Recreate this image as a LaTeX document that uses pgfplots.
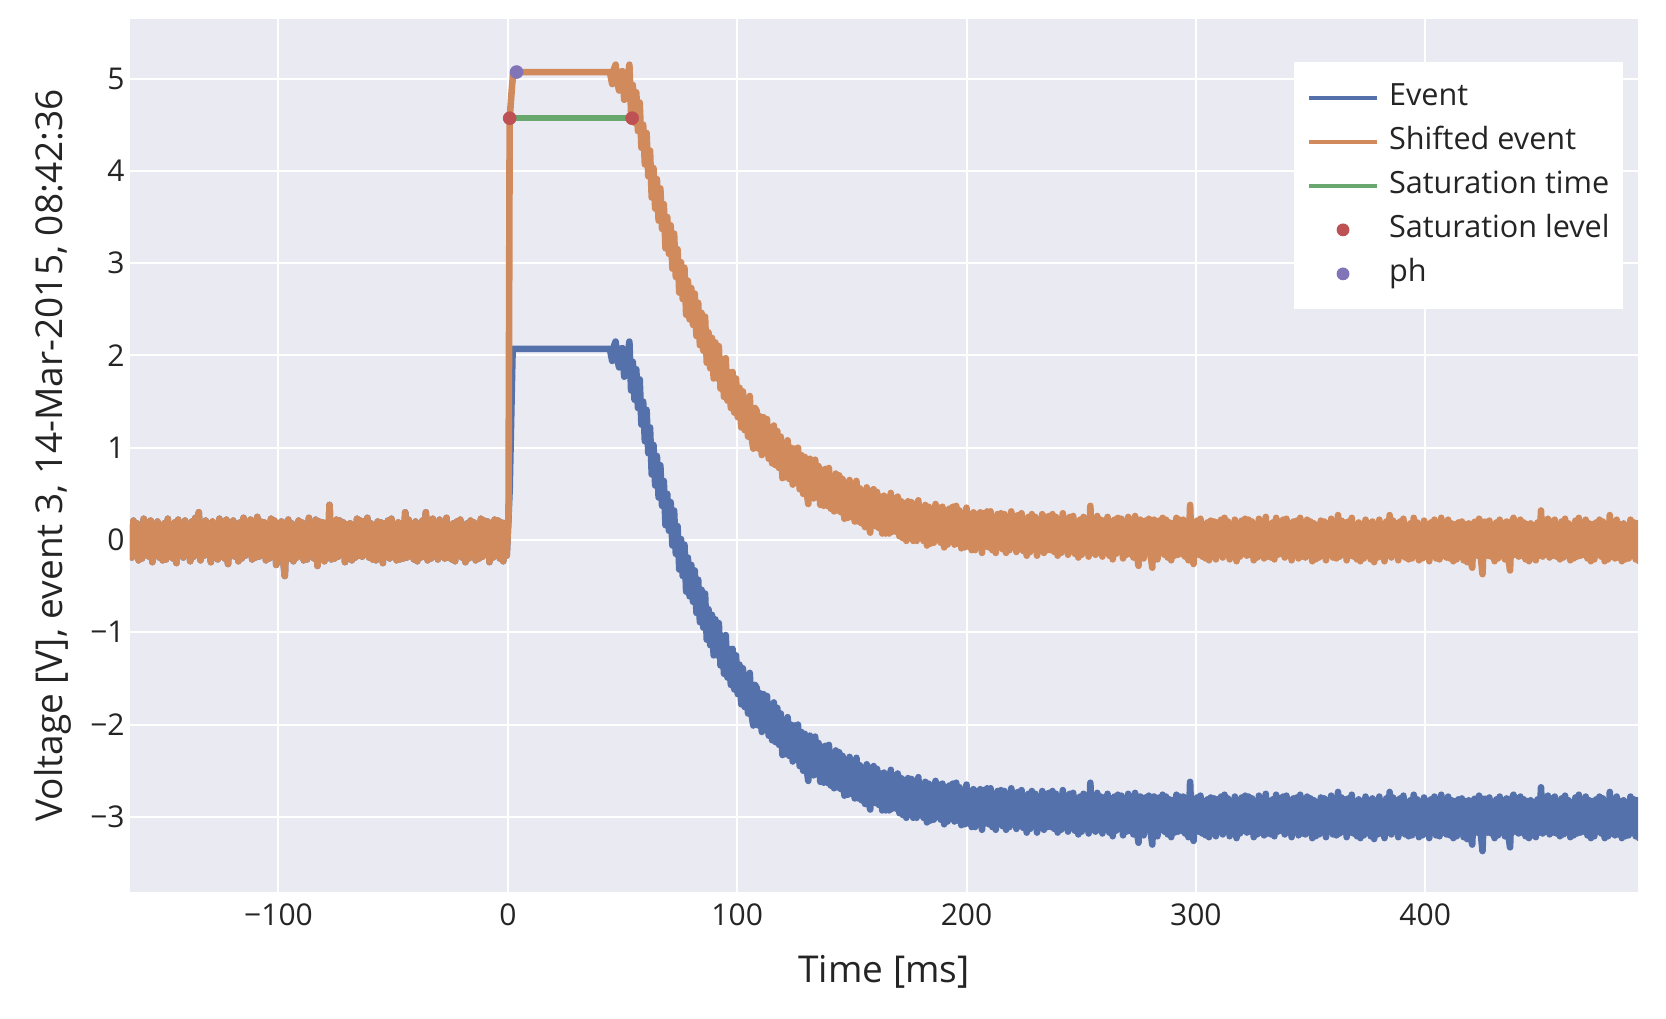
\documentclass[border=0pt]{standalone}
\usepackage{pgfplots}
\pgfplotsset{compat=1.18}
\usepackage{pgfplotstable}
\usepackage{fontspec}
\setmainfont{Open Sans}

\definecolor{panel}{RGB}{234,234,242}
\definecolor{evblue}{RGB}{84,113,171}
\definecolor{shorange}{RGB}{208,138,92}
\definecolor{satgreen}{RGB}{104,168,110}
\definecolor{satred}{RGB}{189,81,84}
\definecolor{phpurple}{RGB}{129,117,183}
\definecolor{labeltext}{RGB}{36,36,36}

% t [ms], event [V], shifted event [V]
\pgfplotstableread{
t ev sh
-164.75 0.17 0.17
-164 -0.19 -0.19
-163.25 0.21 0.21
-162.5 -0.15 -0.15
-161.75 0.18 0.18
-161 -0.22 -0.22
-160.25 0.14 0.14
-159.5 -0.20 -0.20
-158.75 0.23 0.23
-158 -0.16 -0.16
-157.25 0.19 0.19
-156.5 -0.18 -0.18
-155.75 0.21 0.21
-155 -0.24 -0.24
-154.25 0.15 0.15
-153.5 -0.17 -0.17
-152.75 0.20 0.20
-152 -0.19 -0.19
-151.25 0.16 0.16
-150.5 -0.22 -0.22
-149.75 0.18 0.18
-149 -0.21 -0.21
-148.25 0.23 0.23
-147.5 -0.17 -0.17
-146.75 0.15 0.15
-146 -0.20 -0.20
-145.25 0.19 0.19
-144.5 -0.25 -0.25
-143.75 0.22 0.22
-143 -0.16 -0.16
-142.25 0.18 0.18
-141.5 -0.19 -0.19
-140.75 0.21 0.21
-140 -0.15 -0.15
-139.25 0.17 0.17
-138.5 -0.23 -0.23
-137.75 0.20 0.20
-137 -0.18 -0.18
-136.25 0.24 0.24
-135.5 -0.16 -0.16
-134.75 0.30 0.30
-134 -0.22 -0.22
-133.25 0.19 0.19
-132.5 -0.17 -0.17
-131.75 0.21 0.21
-131 -0.16 -0.16
-130.25 0.18 0.18
-129.5 -0.24 -0.24
-128.75 0.20 0.20
-128 -0.19 -0.19
-127.25 0.15 0.15
-126.5 -0.21 -0.21
-125.75 0.23 0.23
-125 -0.18 -0.18
-124.25 0.17 0.17
-123.5 -0.20 -0.20
-122.75 0.22 0.22
-122 -0.26 -0.26
-121.25 0.19 0.19
-120.5 -0.16 -0.16
-119.75 0.21 0.21
-119 -0.18 -0.18
-118.25 0.16 0.16
-117.5 -0.23 -0.23
-116.75 0.19 0.19
-116 -0.20 -0.20
-115.25 0.24 0.24
-114.5 -0.17 -0.17
-113.75 0.18 0.18
-113 -0.15 -0.15
-112.25 0.22 0.22
-111.5 -0.21 -0.21
-110.75 0.17 0.17
-110 -0.19 -0.19
-109.25 0.25 0.25
-108.5 -0.18 -0.18
-107.75 0.20 0.20
-107 -0.16 -0.16
-106.25 0.19 0.19
-105.5 -0.22 -0.22
-104.75 0.16 0.16
-104 -0.20 -0.20
-103.25 0.23 0.23
-102.5 -0.18 -0.18
-101.75 0.21 0.21
-101 -0.27 -0.27
-100.25 0.18 0.18
-99.5 -0.16 -0.16
-98.75 0.20 0.20
-98 -0.19 -0.19
-97.25 -0.39 -0.39
-96.5 0.17 0.17
-95.75 0.22 0.22
-95 -0.20 -0.20
-94.25 0.18 0.18
-93.5 -0.23 -0.23
-92.75 0.16 0.16
-92 -0.19 -0.19
-91.25 0.21 0.21
-90.5 -0.17 -0.17
-89.75 0.19 0.19
-89 -0.22 -0.22
-88.25 0.17 0.17
-87.5 -0.21 -0.21
-86.75 0.24 0.24
-86 -0.16 -0.16
-85.25 0.18 0.18
-84.5 -0.20 -0.20
-83.75 0.22 0.22
-83 -0.28 -0.28
-82.25 0.20 0.20
-81.5 -0.17 -0.17
-80.75 0.19 0.19
-80 -0.23 -0.23
-79.25 0.16 0.16
-78.5 -0.18 -0.18
-77.75 0.38 0.38
-77 -0.21 -0.21
-76.25 0.17 0.17
-75.5 -0.20 -0.20
-74.75 0.22 0.22
-74 -0.18 -0.18
-73.25 0.21 0.21
-72.5 -0.16 -0.16
-71.75 0.19 0.19
-71 -0.24 -0.24
-70.25 0.17 0.17
-69.5 -0.20 -0.20
-68.75 0.18 0.18
-68 -0.22 -0.22
-67.25 0.15 0.15
-66.5 -0.19 -0.19
-65.75 0.23 0.23
-65 -0.17 -0.17
-64.25 0.21 0.21
-63.5 -0.18 -0.18
-62.75 0.20 0.20
-62 -0.16 -0.16
-61.25 0.24 0.24
-60.5 -0.19 -0.19
-59.75 0.18 0.18
-59 -0.21 -0.21
-58.25 0.16 0.16
-57.5 -0.22 -0.22
-56.75 0.20 0.20
-56 -0.17 -0.17
-55.25 0.19 0.19
-54.5 -0.25 -0.25
-53.75 0.18 0.18
-53 -0.16 -0.16
-52.25 0.21 0.21
-51.5 -0.20 -0.20
-50.75 0.23 0.23
-50 -0.18 -0.18
-49.25 0.17 0.17
-48.5 -0.22 -0.22
-47.75 0.19 0.19
-47 -0.21 -0.21
-46.25 0.16 0.16
-45.5 -0.20 -0.20
-44.75 0.30 0.30
-44 -0.19 -0.19
-43.25 0.22 0.22
-42.5 -0.17 -0.17
-41.75 0.18 0.18
-41 -0.21 -0.21
-40.25 0.20 0.20
-39.5 -0.23 -0.23
-38.75 0.16 0.16
-38 -0.19 -0.19
-37.25 0.21 0.21
-36.5 -0.18 -0.18
-35.75 0.30 0.30
-35 -0.22 -0.22
-34.25 0.17 0.17
-33.5 -0.20 -0.20
-32.75 0.23 0.23
-32 -0.16 -0.16
-31.25 0.19 0.19
-30.5 -0.21 -0.21
-29.75 0.22 0.22
-29 -0.18 -0.18
-28.25 0.17 0.17
-27.5 -0.20 -0.20
-26.75 0.24 0.24
-26 -0.19 -0.19
-25.25 0.16 0.16
-24.5 -0.21 -0.21
-23.75 0.18 0.18
-23 -0.23 -0.23
-22.25 0.20 0.20
-21.5 -0.17 -0.17
-20.75 0.22 0.22
-20 -0.19 -0.19
-19.25 0.15 0.15
-18.5 -0.24 -0.24
-17.75 0.18 0.18
-17 -0.20 -0.20
-16.25 0.21 0.21
-15.5 -0.16 -0.16
-14.75 0.19 0.19
-14 -0.22 -0.22
-13.25 0.17 0.17
-12.5 -0.20 -0.20
-11.75 0.23 0.23
-11 -0.18 -0.18
-10.25 0.21 0.21
-9.5 -0.16 -0.16
-8.75 0.20 0.20
-8 -0.24 -0.24
-7.25 0.18 0.18
-6.5 -0.19 -0.19
-5.75 0.22 0.22
-5 -0.17 -0.17
-4.25 0.21 0.21
-3.5 -0.20 -0.20
-2.75 0.19 0.19
-2 -0.23 -0.23
-1.25 0.18 0.18
-0.5 -0.17 -0.17
0.3 0.26 0.28
0.8 0.55 4.57
1.9 1.85 4.94
2.1 2.07 4.99
2.3 2.07 5.07
44.5 2.07 5.07
45.5 1.94 4.94
46.25 2.10 5.10
47 2.15 5.15
47.75 1.96 4.96
48.5 1.87 4.87
49.25 2.07 5.07
50 2.08 5.08
50.75 1.77 4.77
51.5 1.79 4.79
52.25 2.00 5.00
53 2.15 5.15
53.75 1.62 4.62
54.5 1.93 4.93
55.25 1.52 4.52
56 1.85 4.85
56.75 1.43 4.43
57.5 1.74 4.74
58.25 1.25 4.25
59 1.50 4.50
59.75 1.07 4.07
60.5 1.41 4.41
61.25 0.94 3.94
62 1.22 4.22
62.75 0.71 3.71
63.5 1.03 4.03
64.25 0.59 3.59
65 0.91 3.91
65.75 0.46 3.46
66.5 0.81 3.81
67.25 0.37 3.37
68 0.64 3.64
68.75 0.16 3.16
69.5 0.50 3.50
70.25 0.10 3.10
71 0.41 3.41
71.75 -0.06 2.94
72.5 0.32 3.32
73.25 -0.15 2.85
74 0.15 3.15
74.75 -0.32 2.68
75.5 0.01 3.01
76.25 -0.39 2.61
77 -0.05 2.95
77.75 -0.56 2.44
78.5 -0.19 2.81
79.25 -0.61 2.39
80 -0.27 2.73
80.75 -0.67 2.33
81.5 -0.33 2.67
82.25 -0.79 2.21
83 -0.43 2.57
83.75 -0.89 2.11
84.5 -0.54 2.46
85.25 -0.95 2.05
86 -0.58 2.42
86.75 -1.08 1.92
87.5 -0.75 2.25
88.25 -1.14 1.86
89 -0.81 2.19
89.75 -1.25 1.75
90.5 -0.86 2.14
91.25 -1.25 1.75
92 -0.90 2.10
92.75 -1.36 1.64
93.5 -1.04 1.96
94.25 -1.45 1.55
95 -1.03 1.97
95.75 -1.49 1.51
96.5 -1.18 1.82
97.25 -1.57 1.43
98 -1.18 1.82
98.75 -1.62 1.38
99.5 -1.25 1.75
100.25 -1.67 1.33
101 -1.35 1.65
101.75 -1.78 1.22
102.5 -1.39 1.61
103.25 -1.81 1.19
104 -1.47 1.53
104.75 -1.88 1.12
105.5 -1.44 1.56
106.25 -1.88 1.12
107 -2.01 0.99
107.75 -1.57 1.43
108.5 -1.60 1.40
109.25 -2.01 0.99
110 -1.66 1.34
110.75 -2.08 0.92
111.5 -1.67 1.33
112.25 -2.06 0.94
113 -1.69 1.31
113.75 -2.12 0.88
114.5 -1.79 1.21
115.25 -2.17 0.83
116 -1.76 1.24
116.75 -2.19 0.81
117.5 -1.82 1.18
118.25 -2.22 0.78
119 -1.88 1.12
119.75 -2.33 0.67
120.5 -1.95 1.05
121.25 -2.32 0.68
122 -1.92 1.08
122.75 -2.34 0.66
123.5 -2.00 1.00
124.25 -2.40 0.60
125 -2.01 0.99
125.75 -2.38 0.62
126.5 -2.00 1.00
127.25 -2.45 0.55
128 -2.08 0.92
128.75 -2.50 0.50
129.5 -2.10 0.90
130.25 -2.47 0.53
131 -2.61 0.39
131.75 -2.12 0.88
132.5 -2.16 0.84
133.25 -2.55 0.45
134 -2.13 0.87
134.75 -2.54 0.46
135.5 -2.20 0.80
136.25 -2.62 0.38
137 -2.24 0.76
137.75 -2.63 0.37
138.5 -2.23 0.77
139.25 -2.63 0.37
140 -2.22 0.78
140.75 -2.66 0.34
141.5 -2.32 0.68
142.25 -2.69 0.31
143 -2.28 0.72
143.75 -2.68 0.32
144.5 -2.30 0.70
145.25 -2.70 0.30
146 -2.34 0.66
146.75 -2.77 0.23
147.5 -2.39 0.61
148.25 -2.76 0.24
149 -2.35 0.65
149.75 -2.75 0.25
150.5 -2.40 0.60
151.25 -2.80 0.20
152 -2.36 0.64
152.75 -2.80 0.20
153.5 -2.44 0.56
154.25 -2.82 0.18
155 -2.47 0.53
155.75 -2.86 0.14
156.5 -2.43 0.57
157.25 -2.83 0.17
158 -2.92 0.08
158.75 -2.48 0.52
159.5 -2.45 0.55
160.25 -2.85 0.15
161 -2.48 0.52
161.75 -2.87 0.13
162.5 -2.53 0.47
163.25 -2.93 0.07
164 -2.52 0.48
164.75 -2.93 0.07
165.5 -2.54 0.46
166.25 -2.93 0.07
167 -2.49 0.51
167.75 -2.91 0.09
168.5 -2.55 0.45
169.25 -2.91 0.09
170 -2.53 0.47
170.75 -2.96 0.04
171.5 -2.58 0.42
172.25 -2.98 0.02
173 -2.60 0.40
173.75 -3.01 -0.01
174.5 -2.58 0.42
175.25 -2.94 0.06
176 -2.59 0.41
176.75 -3.01 -0.01
177.5 -2.61 0.39
178.25 -3.01 -0.01
179 -2.57 0.43
179.75 -2.98 0.02
180.5 -2.65 0.35
181.25 -3.01 -0.01
182 -2.62 0.38
182.75 -3.06 -0.06
183.5 -2.64 0.36
184.25 -3.04 -0.04
185 -2.66 0.34
185.75 -3.03 -0.03
186.5 -2.61 0.39
187.25 -3.00 0.00
188 -2.65 0.35
188.75 -3.03 -0.03
189.5 -2.64 0.36
190.25 -3.08 -0.08
191 -2.68 0.32
191.75 -3.05 -0.05
192.5 -2.66 0.34
193.25 -3.02 -0.02
194 -2.64 0.36
194.75 -3.05 -0.05
195.5 -2.63 0.37
196.25 -3.04 -0.04
197 -2.68 0.32
197.75 -3.09 -0.09
198.5 -2.72 0.28
199.25 -3.08 -0.08
200 -2.65 0.35
200.75 -3.07 -0.07
201.5 -2.72 0.28
202.25 -3.11 -0.11
203 -2.70 0.30
203.75 -3.11 -0.11
204.5 -2.72 0.28
205.25 -3.06 -0.06
206 -2.70 0.30
206.75 -3.14 -0.14
207.5 -2.71 0.29
208.25 -3.07 -0.07
209 -2.69 0.31
209.75 -3.08 -0.08
210.5 -2.69 0.31
211.25 -3.11 -0.11
212 -2.75 0.25
212.75 -3.14 -0.14
213.5 -2.72 0.28
214.25 -3.08 -0.08
215 -2.71 0.29
215.75 -3.10 -0.10
216.5 -2.72 0.28
217.25 -3.14 -0.14
218 -2.75 0.25
218.75 -3.11 -0.11
219.5 -2.69 0.31
220.25 -3.08 -0.08
221 -2.74 0.26
221.75 -3.13 -0.13
222.5 -2.73 0.27
223.25 -3.10 -0.10
224 -2.71 0.29
224.75 -3.12 -0.12
225.5 -2.77 0.23
226.25 -3.17 -0.17
227 -2.75 0.25
227.75 -3.13 -0.13
228.5 -2.72 0.28
229.25 -3.10 -0.10
230 -2.75 0.25
230.75 -3.17 -0.17
231.5 -2.78 0.22
232.25 -3.12 -0.12
233 -2.72 0.28
233.75 -3.14 -0.14
234.5 -2.75 0.25
235.25 -3.11 -0.11
236 -2.74 0.26
236.75 -3.11 -0.11
237.5 -2.72 0.28
238.25 -3.13 -0.13
239 -2.75 0.25
239.75 -3.17 -0.17
240.5 -2.78 0.22
241.25 -3.14 -0.14
242 -2.71 0.29
242.75 -3.11 -0.11
243.5 -2.77 0.23
244.25 -3.16 -0.16
245 -2.75 0.25
245.75 -3.12 -0.12
246.5 -2.74 0.26
247.25 -3.15 -0.15
248 -2.80 0.20
248.75 -3.19 -0.19
249.5 -2.78 0.22
250.25 -3.16 -0.16
251 -2.75 0.25
251.75 -3.13 -0.13
252.5 -2.77 0.23
253.25 -3.18 -0.18
254 -2.63 0.37
254.75 -3.14 -0.14
255.5 -2.80 0.20
256.25 -3.16 -0.16
257 -2.74 0.26
257.75 -3.14 -0.14
258.5 -2.78 0.22
259.25 -3.18 -0.18
260 -2.79 0.21
260.75 -3.13 -0.13
261.5 -2.75 0.25
262.25 -3.17 -0.17
263 -2.80 0.20
263.75 -3.21 -0.21
264.5 -2.78 0.22
265.25 -3.15 -0.15
266 -2.76 0.24
266.75 -3.13 -0.13
267.5 -2.77 0.23
268.25 -3.20 -0.20
269 -2.80 0.20
269.75 -3.16 -0.16
270.5 -2.75 0.25
271.25 -3.15 -0.15
272 -2.82 0.18
272.75 -3.19 -0.19
273.5 -2.74 0.26
274.25 -3.15 -0.15
275 -3.28 -0.28
275.75 -2.78 0.22
276.5 -2.80 0.20
277.25 -3.20 -0.20
278 -2.79 0.21
278.75 -3.14 -0.14
279.5 -2.77 0.23
280.25 -3.15 -0.15
281 -3.30 -0.30
281.75 -2.78 0.22
282.5 -2.80 0.20
283.25 -3.21 -0.21
284 -2.79 0.21
284.75 -3.14 -0.14
285.5 -2.76 0.24
286.25 -3.16 -0.16
287 -2.78 0.22
287.75 -3.19 -0.19
288.5 -2.81 0.19
289.25 -3.22 -0.22
290 -2.82 0.18
290.75 -3.17 -0.17
291.5 -2.76 0.24
292.25 -3.16 -0.16
293 -2.78 0.22
293.75 -3.15 -0.15
294.5 -2.78 0.22
295.25 -3.18 -0.18
296 -2.83 0.17
296.75 -3.22 -0.22
297.5 -2.62 0.38
298.25 -3.17 -0.17
299 -3.26 -0.26
299.75 -2.85 0.15
300.5 -2.79 0.21
301.25 -3.16 -0.16
302 -2.77 0.23
302.75 -3.18 -0.18
303.5 -2.83 0.17
304.25 -3.20 -0.20
305 -2.81 0.19
305.75 -3.22 -0.22
306.5 -2.79 0.21
307.25 -3.16 -0.16
308 -2.80 0.20
308.75 -3.21 -0.21
309.5 -2.81 0.19
310.25 -3.15 -0.15
311 -2.78 0.22
311.75 -3.19 -0.19
312.5 -2.76 0.24
313.25 -3.16 -0.16
314 -2.80 0.20
314.75 -3.21 -0.21
315.5 -2.83 0.17
316.25 -3.17 -0.17
317 -2.78 0.22
317.75 -3.23 -0.23
318.5 -2.82 0.18
319.25 -3.18 -0.18
320 -2.79 0.21
320.75 -3.15 -0.15
321.5 -2.77 0.23
322.25 -3.17 -0.17
323 -2.78 0.22
323.75 -3.16 -0.16
324.5 -2.80 0.20
325.25 -3.22 -0.22
326 -2.83 0.17
326.75 -3.19 -0.19
327.5 -2.77 0.23
328.25 -3.17 -0.17
329 -2.82 0.18
329.75 -3.20 -0.20
330.5 -2.75 0.25
331.25 -3.18 -0.18
332 -2.83 0.17
332.75 -3.19 -0.19
333.5 -2.81 0.19
334.25 -3.21 -0.21
335 -2.76 0.24
335.75 -3.16 -0.16
336.5 -2.80 0.20
337.25 -3.15 -0.15
338 -2.78 0.22
338.75 -3.19 -0.19
339.5 -2.77 0.23
340.25 -3.17 -0.17
341 -2.82 0.18
341.75 -3.22 -0.22
342.5 -2.80 0.20
343.25 -3.15 -0.15
344 -2.79 0.21
344.75 -3.20 -0.20
345.5 -2.76 0.24
346.25 -3.18 -0.18
347 -2.84 0.16
347.75 -3.19 -0.19
348.5 -2.78 0.22
349.25 -3.17 -0.17
350 -2.80 0.20
350.75 -3.23 -0.23
351.5 -2.82 0.18
352.25 -3.21 -0.21
353 -2.84 0.16
353.75 -3.19 -0.19
354.5 -2.79 0.21
355.25 -3.17 -0.17
356 -2.80 0.20
356.75 -3.22 -0.22
357.5 -2.82 0.18
358.25 -3.16 -0.16
359 -2.77 0.23
359.75 -3.19 -0.19
360.5 -2.83 0.17
361.25 -3.20 -0.20
362 -2.73 0.27
362.75 -3.18 -0.18
363.5 -2.79 0.21
364.25 -3.16 -0.16
365 -2.81 0.19
365.75 -3.22 -0.22
366.5 -2.80 0.20
367.25 -3.17 -0.17
368 -2.76 0.24
368.75 -3.18 -0.18
369.5 -2.84 0.16
370.25 -3.21 -0.21
371 -2.81 0.19
371.75 -3.23 -0.23
372.5 -2.83 0.17
373.25 -3.20 -0.20
374 -2.78 0.22
374.75 -3.16 -0.16
375.5 -2.82 0.18
376.25 -3.21 -0.21
377 -2.80 0.20
377.75 -3.24 -0.24
378.5 -2.83 0.17
379.25 -3.19 -0.19
380 -2.78 0.22
380.75 -3.18 -0.18
381.5 -2.84 0.16
382.25 -3.23 -0.23
383 -2.80 0.20
383.75 -3.17 -0.17
384.5 -2.73 0.27
385.25 -3.19 -0.19
386 -2.79 0.21
386.75 -3.16 -0.16
387.5 -2.82 0.18
388.25 -3.22 -0.22
389 -2.80 0.20
389.75 -3.17 -0.17
390.5 -2.77 0.23
391.25 -3.19 -0.19
392 -2.84 0.16
392.75 -3.21 -0.21
393.5 -2.82 0.18
394.25 -3.20 -0.20
395 -2.76 0.24
395.75 -3.17 -0.17
396.5 -2.81 0.19
397.25 -3.22 -0.22
398 -2.84 0.16
398.75 -3.20 -0.20
399.5 -2.79 0.21
400.25 -3.18 -0.18
401 -2.83 0.17
401.75 -3.23 -0.23
402.5 -2.81 0.19
403.25 -3.16 -0.16
404 -2.78 0.22
404.75 -3.20 -0.20
405.5 -2.82 0.18
406.25 -3.21 -0.21
407 -2.76 0.24
407.75 -3.17 -0.17
408.5 -2.84 0.16
409.25 -3.19 -0.19
410 -2.78 0.22
410.75 -3.20 -0.20
411.5 -2.82 0.18
412.25 -3.23 -0.23
413 -2.83 0.17
413.75 -3.21 -0.21
414.5 -2.81 0.19
415.25 -3.16 -0.16
416 -2.80 0.20
416.75 -3.22 -0.22
417.5 -2.83 0.17
418.25 -3.24 -0.24
419 -2.82 0.18
419.75 -3.21 -0.21
420.5 -3.30 -0.30
421.25 -2.81 0.19
422 -2.80 0.20
422.75 -3.17 -0.17
423.5 -2.77 0.23
424.25 -3.18 -0.18
425 -3.37 -0.37
425.75 -2.80 0.20
426.5 -2.81 0.19
427.25 -3.17 -0.17
428 -2.79 0.21
428.75 -3.18 -0.18
429.5 -2.84 0.16
430.25 -3.23 -0.23
431 -2.81 0.19
431.75 -3.20 -0.20
432.5 -2.78 0.22
433.25 -3.17 -0.17
434 -2.82 0.18
434.75 -3.21 -0.21
435.5 -2.80 0.20
436.25 -3.19 -0.19
437 -3.33 -0.33
437.75 -2.81 0.19
438.5 -2.76 0.24
439.25 -3.16 -0.16
440 -2.80 0.20
440.75 -3.18 -0.18
441.5 -2.78 0.22
442.25 -3.17 -0.17
443 -2.81 0.19
443.75 -3.21 -0.21
444.5 -2.83 0.17
445.25 -3.23 -0.23
446 -2.82 0.18
446.75 -3.20 -0.20
447.5 -2.84 0.16
448.25 -3.22 -0.22
449 -2.81 0.19
449.75 -3.17 -0.17
450.5 -2.68 0.32
451.25 -3.18 -0.18
452 -2.79 0.21
452.75 -3.16 -0.16
453.5 -2.77 0.23
454.25 -3.19 -0.19
455 -2.80 0.20
455.75 -3.17 -0.17
456.5 -2.78 0.22
457.25 -3.18 -0.18
458 -2.84 0.16
458.75 -3.21 -0.21
459.5 -2.80 0.20
460.25 -3.19 -0.19
461 -2.77 0.23
461.75 -3.17 -0.17
462.5 -2.82 0.18
463.25 -3.22 -0.22
464 -2.84 0.16
464.75 -3.20 -0.20
465.5 -2.79 0.21
466.25 -3.18 -0.18
467 -2.76 0.24
467.75 -3.17 -0.17
468.5 -2.81 0.19
469.25 -3.16 -0.16
470 -2.78 0.22
470.75 -3.20 -0.20
471.5 -2.82 0.18
472.25 -3.23 -0.23
473 -2.83 0.17
473.75 -3.21 -0.21
474.5 -2.81 0.19
475.25 -3.16 -0.16
476 -2.78 0.22
476.75 -3.18 -0.18
477.5 -2.80 0.20
478.25 -3.23 -0.23
479 -2.83 0.17
479.75 -3.21 -0.21
480.5 -2.73 0.27
481.25 -3.18 -0.18
482 -2.84 0.16
482.75 -3.20 -0.20
483.5 -2.78 0.22
484.25 -3.19 -0.19
485 -2.83 0.17
485.75 -3.23 -0.23
486.5 -2.82 0.18
487.25 -3.21 -0.21
488 -2.84 0.16
488.75 -3.20 -0.20
489.5 -2.78 0.22
490.25 -3.17 -0.17
491 -2.81 0.19
491.75 -3.21 -0.21
492.5 -2.82 0.18
493.25 -3.23 -0.23
494 -2.83 0.17
}\sigdata

\begin{document}
\begin{tikzpicture}
\path[use as bounding box] (-65pt,-63pt) rectangle (768pt,446pt);
\begin{axis}[
  at={(0pt,0pt)}, anchor=south west,
  scale only axis, width=754pt, height=436.5pt,
  xmin=-164.75, xmax=492.8, ymin=-3.814, ymax=5.645,
  axis background/.style={fill=panel},
  axis line style={draw=none},
  major tick length=0pt,
  grid=major, major grid style={white, line width=1pt},
  xtick={-100,0,100,200,300,400},
  xticklabels={−100,0,100,200,300,400},
  ytick={-3,-2,-1,0,1,2,3,4,5},
  yticklabels={−3,−2,−1,0,1,2,3,4,5},
  ticklabel style={font=\fontsize{15}{18}\selectfont, text=labeltext},
  xticklabel style={inner sep=0pt, yshift=-5.5pt},
  yticklabel style={inner sep=0pt, xshift=-2.5pt},
  xlabel={Time [ms]},
  ylabel={Voltage [V], event 3, 14-Mar-2015, 08:42:36},
  every axis x label/.style={at={(axis description cs:0.5,0)}, anchor=center, yshift=-40pt},
  every axis y label/.style={at={(axis description cs:0,0.5)}, xshift=-38.4pt, rotate=90, anchor=center},
  label style={font=\fontsize{18.5}{22}\selectfont, text=labeltext},
  legend cell align=left,
  legend style={at={(1,1)}, anchor=north east, xshift=-7.5pt, yshift=-21.5pt,
    draw=none, fill=white, font=\fontsize{15.3}{18}\selectfont, text=labeltext,
    inner xsep=6.5pt, inner ysep=10.5pt, row sep=7.5pt,
    nodes={inner sep=0pt, text height=11pt, text depth=3.5pt, anchor=west}},
]
\addplot[evblue, line width=3.3pt, line join=round,
  legend image code/.code={\path[draw=none] (0pt,0pt) -- (40pt,0pt); \draw[evblue, line width=2.3pt] (0pt,0pt) -- (34pt,0pt);}]
  table[x=t, y=ev] {\sigdata};
\addlegendentry{Event}
\addplot[shorange, line width=3.3pt, line join=round,
  legend image code/.code={\path[draw=none] (0pt,0pt) -- (40pt,0pt); \draw[shorange, line width=2.3pt] (0pt,0pt) -- (34pt,0pt);}]
  table[x=t, y=sh] {\sigdata};
\addlegendentry{Shifted event}
\addplot[satgreen, line width=3pt,
  legend image code/.code={\path[draw=none] (0pt,0pt) -- (40pt,0pt); \draw[satgreen, line width=2.3pt] (0pt,0pt) -- (34pt,0pt);}]
  coordinates {(0.8,4.57) (54.2,4.57)};
\addlegendentry{Saturation time}
\addplot[satred, only marks, mark=*, mark size=3.2pt, mark options={draw=satred, fill=satred},
  legend image code/.code={\path[draw=none] (0pt,0pt) -- (40pt,0pt); \fill[satred, draw=none] (17pt,0pt) circle[radius=3.2pt];}]
  coordinates {(0.8,4.57) (54.2,4.57)};
\addlegendentry{Saturation level}
\addplot[phpurple, only marks, mark=*, mark size=3.2pt, mark options={draw=phpurple, fill=phpurple},
  legend image code/.code={\path[draw=none] (0pt,0pt) -- (40pt,0pt); \fill[phpurple, draw=none] (17pt,0pt) circle[radius=3.2pt];}]
  coordinates {(3.8,5.07)};
\addlegendentry{ph}
\end{axis}
\end{tikzpicture}
\end{document}
